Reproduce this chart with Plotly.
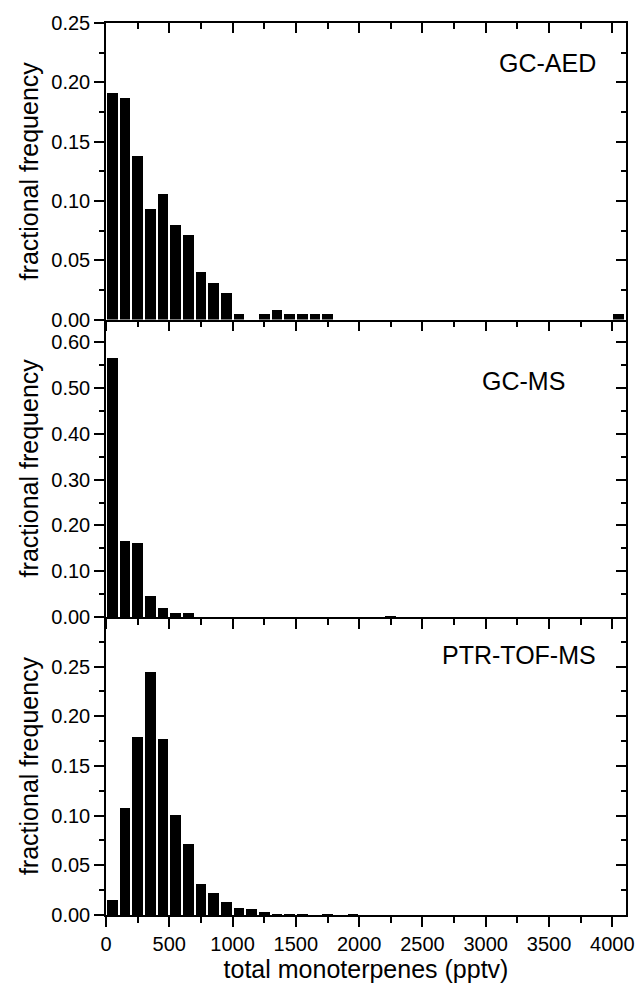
import plotly.graph_objects as go

# ---- data (bin left edges in pptv, fractional frequency) ----
aed_bins = [0, 100, 200, 300, 400, 500, 600, 700, 800, 900, 1000, 1200, 1300, 1400, 1500, 1600, 1700, 4000]
aed_freq = [0.191, 0.187, 0.138, 0.093, 0.106, 0.0795, 0.071, 0.040, 0.031, 0.022, 0.0045, 0.0045, 0.0084, 0.0045, 0.0045, 0.0045, 0.0045, 0.0045]

ms_bins = [0, 100, 200, 300, 400, 500, 600, 2200]
ms_freq = [0.567, 0.168, 0.1635, 0.047, 0.020, 0.0095, 0.0095, 0.004]

ptr_bins = [0, 100, 200, 300, 400, 500, 600, 700, 800, 900, 1000, 1100, 1200, 1300, 1400, 1500, 1700, 1900]
ptr_freq = [0.0147, 0.108, 0.179, 0.245, 0.177, 0.101, 0.071, 0.031, 0.022, 0.013, 0.0074, 0.0064, 0.0027, 0.0013, 0.0013, 0.0013, 0.0013, 0.0013]

panel_labels = ["GC-AED", "GC-MS", "PTR-TOF-MS"]
x_title = "total monoterpenes (pptv)"
y_title = "fractional frequency"

BIN = 100
BAR_W = 84
XMAX = 4108

FONT = "Liberation Sans, Arial, sans-serif"
TICKF = dict(family=FONT, size=20, color="black")
LW = 1.5

fig = go.Figure()

def centers(b):
    return [v + BIN / 2 for v in b]

# bottom panel: x / y ; middle: x2 / y2 ; top: x3 / y3
fig.add_trace(go.Bar(x=centers(ptr_bins), y=ptr_freq, width=BAR_W, marker=dict(color="black", line=dict(width=0)),
                     xaxis="x", yaxis="y", showlegend=False))
fig.add_trace(go.Bar(x=centers(ms_bins), y=ms_freq, width=BAR_W, marker=dict(color="black", line=dict(width=0)),
                     xaxis="x2", yaxis="y2", showlegend=False))
fig.add_trace(go.Bar(x=centers(aed_bins), y=aed_freq, width=BAR_W, marker=dict(color="black", line=dict(width=0)),
                     xaxis="x3", yaxis="y3", showlegend=False))

# dummy traces for mirror axes (top x, right y)
for xa, ya in [("x4", "y"), ("x5", "y2"), ("x6", "y3"), ("x", "y4"), ("x2", "y5"), ("x3", "y6")]:
    fig.add_trace(go.Scatter(x=[None], y=[None], xaxis=xa, yaxis=ya, showlegend=False, hoverinfo="skip"))

d_bot = [0, 0.3341]
d_mid = [0.3341, 0.6675]
d_top = [0.6675, 1.0]

def xax(anchor, labels, side="bottom", ticks="outside", overlay=None, title=None, line=True):
    ax = dict(range=[0, XMAX], tick0=0, dtick=500, ticks=ticks, ticklen=10, tickwidth=LW, tickcolor="black",
              minor=dict(tick0=0, dtick=250, ticks=ticks, ticklen=6, tickwidth=LW, tickcolor="black"),
              showline=line, linecolor="black", linewidth=LW, showgrid=False, zeroline=False,
              showticklabels=labels, tickfont=TICKF, anchor=anchor, side=side, fixedrange=True,
              automargin=False)
    if overlay:
        ax["overlaying"] = overlay
    if title:
        ax["title"] = dict(text=title, font=dict(family=FONT, size=25, color="black"), standoff=7)
    return ax

def yax(anchor, domain, rng, dtick, minor, labels=True, side="left", ticks="outside", overlay=None, tickvals=None):
    ax = dict(range=rng, ticks=ticks, ticklen=10, tickwidth=LW, tickcolor="black",
              minor=dict(tick0=0, dtick=minor, ticks=ticks, ticklen=5, tickwidth=LW, tickcolor="black"),
              showline=True, linecolor="black", linewidth=LW, showgrid=False, zeroline=False,
              showticklabels=labels, tickfont=TICKF, tickformat=".2f", anchor=anchor, side=side, fixedrange=True,
              automargin=False)
    if tickvals is not None:
        ax["tickmode"] = "array"
        ax["tickvals"] = tickvals
    else:
        ax["tick0"] = 0
        ax["dtick"] = dtick
    if overlay:
        ax["overlaying"] = overlay
    else:
        ax["domain"] = domain
    if labels:
        ax["title"] = dict(text=y_title, font=dict(family=FONT, size=25, color="black"), standoff=6)
    return ax

ptr_ticks = [0, 0.05, 0.10, 0.15, 0.20, 0.25]

fig.update_layout(
    width=639, height=999,
    margin=dict(l=106, r=13, t=23, b=84, autoexpand=False),
    paper_bgcolor="white", plot_bgcolor="white",
    bargap=0,
    font=dict(family=FONT, color="black"),
    xaxis=xax("y", True, title=x_title),
    xaxis2=xax("y2", False),
    xaxis3=xax("y3", False),
    xaxis4=xax("y", False, side="top", ticks="inside", overlay="x", line=False),
    xaxis5=xax("y2", False, side="top", ticks="inside", overlay="x2", line=False),
    xaxis6=xax("y3", False, side="top", ticks="inside", overlay="x3"),
    yaxis=yax("x", d_bot, [0, 0.30], None, 0.025, tickvals=ptr_ticks),
    yaxis2=yax("x2", d_mid, [0, 0.65], 0.1, 0.05),
    yaxis3=yax("x3", d_top, [0, 0.25], 0.05, 0.025),
    yaxis4=yax("x", d_bot, [0, 0.30], None, 0.025, labels=False, side="right", ticks="inside", overlay="y", tickvals=ptr_ticks + [0.30]),
    yaxis5=yax("x2", d_mid, [0, 0.65], 0.1, 0.05, labels=False, side="right", ticks="inside", overlay="y2"),
    yaxis6=yax("x3", d_top, [0, 0.25], 0.05, 0.025, labels=False, side="right", ticks="inside", overlay="y3"),
)

ann_font = dict(family=FONT, size=25, color="black")
fig.add_annotation(text=panel_labels[0], xref="x3 domain", yref="y3 domain", x=0.946, y=0.866,
                   xanchor="right", yanchor="middle", showarrow=False, font=ann_font)
fig.add_annotation(text=panel_labels[1], xref="x2 domain", yref="y2 domain", x=0.886, y=0.7925,
                   xanchor="right", yanchor="middle", showarrow=False, font=ann_font)
fig.add_annotation(text=panel_labels[2], xref="x domain", yref="y domain", x=0.946, y=0.871,
                   xanchor="right", yanchor="middle", showarrow=False, font=ann_font)

fig.write_html("out.html", config={"displayModeBar": False},
               post_script="document.body.style.margin='0';document.body.style.padding='0';")
